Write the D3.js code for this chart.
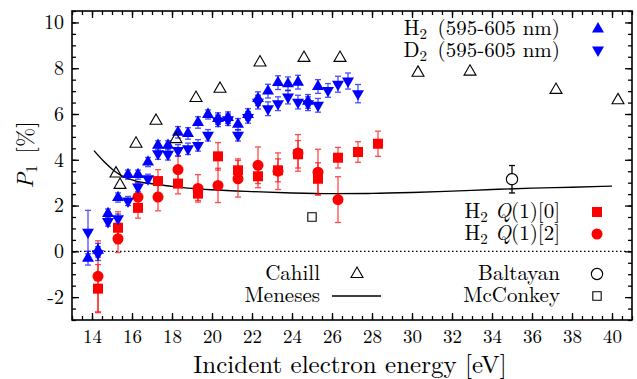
<!DOCTYPE html>
<html><head><meta charset="utf-8">
<script src="https://cdn.jsdelivr.net/npm/d3@7"></script>
<style>body{margin:0;background:#fff}svg{display:block}</style>
</head><body><svg id="c" width="637" height="379"></svg>
<script>
// ---- data ----
const xTicks = [14,16,18,20,22,24,26,28,30,32,34,36,38,40];
const yTicks = [-2,0,2,4,6,8,10];
const h2E   = [13.8,14.3,14.8,15.3,15.8,16.3,16.8,17.3,17.8,18.3,18.8,19.3,19.8,20.3,20.8,21.3,21.8,22.3,22.8,23.3,23.8,24.3,24.8,25.3];
const h2P   = [-0.3,0.05,1.65,2.35,3.35,3.35,3.9,4.63,4.63,5.2,5.15,5.63,5.98,5.8,5.84,5.55,5.98,6.67,7.0,7.37,7.32,7.39,6.55,7.2];
const h2Err = [0.3,0.3,0.2,0.2,0.2,0.2,0.2,0.2,0.2,0.25,0.25,0.25,0.2,0.25,0.25,0.25,0.25,0.3,0.3,0.3,0.3,0.3,0.3,0.3];
const d2E   = [13.8,14.3,14.8,15.3,15.8,16.3,16.8,17.3,17.8,18.3,18.8,19.3,19.8,20.3,20.8,21.3,21.8,22.3,22.8,23.3,23.8,24.3,24.8,25.3,25.8,26.3,26.8,27.3];
const d2P   = [0.84,-0.1,1.3,1.43,2.2,2.81,3.17,4.27,4.24,4.41,4.48,4.63,5.07,5.7,5.75,5.07,5.85,6.52,6.23,6.45,6.74,6.52,6.45,6.38,7.03,7.3,7.44,6.89];
const d2Err = [0.95,0.3,0.2,0.2,0.2,0.2,0.2,0.25,0.25,0.25,0.25,0.25,0.25,0.25,0.25,0.25,0.25,0.3,0.3,0.3,0.3,0.3,0.3,0.3,0.3,0.35,0.35,0.4];
const q0E   = [14.3,15.3,16.3,17.3,18.3,19.3,20.3,21.3,22.3,23.3,24.3,25.3,26.3,27.3,28.3];
const q0P   = [-1.63,1.03,1.9,3.07,2.96,2.52,4.15,3.54,3.28,3.54,4.24,3.17,4.09,4.34,4.7];
const q0Err = [1.05,0.7,0.45,0.5,0.45,0.3,0.6,0.5,0.5,0.5,0.6,0.7,0.45,0.45,0.55];
const q2E   = [14.3,15.3,16.3,17.3,18.3,19.3,20.3,21.3,22.3,23.3,24.3,25.3,26.3];
const q2P   = [-1.09,0.55,2.37,2.37,3.57,2.75,2.88,3.17,3.76,3.5,4.3,3.46,2.26];
const q2Err = [1.55,0.6,0.6,0.6,0.6,0.6,0.75,0.8,0.8,0.8,0.8,1.0,1.0];
const cahillE = [15.2,15.4,16.2,17.2,18.2,19.2,20.4,22.4,24.6,26.4,30.3,32.9,37.2,40.3];
const cahillP = [3.4,2.9,4.7,5.7,4.9,6.7,7.1,8.25,8.45,8.45,7.8,7.85,7.05,6.6];
const menesesE = [14.1,14.6,15.1,15.6,16.2,17,18,19,20,22,24,26,28,30,32,34,36,38,40];
const menesesP = [4.4,3.92,3.52,3.25,3.07,2.95,2.84,2.75,2.69,2.61,2.55,2.52,2.53,2.57,2.63,2.7,2.76,2.8,2.85];
const baltayanE = [35.0], baltayanP = [3.15], baltayanErr = [0.6];
const mcconkeyE = [25.0], mcconkeyP = [1.5];

// ---- layout ----
const FONT = '"Latin Modern Roman","CMU Serif","Liberation Serif",serif';
const svg = d3.select("#c");
const L=72, T=11, R=632, B=320;
const x = d3.scaleLinear().domain([13,41]).range([L,R]);
const y = d3.scaleLinear().domain([-3,10.5]).range([B,T]);
const BLUE="#0000ff", RED="#ff0000";

// zero line
svg.append("line").attr("x1",L).attr("x2",R).attr("y1",y(0)).attr("y2",y(0))
  .attr("stroke","#000").attr("stroke-width",1.2).attr("stroke-dasharray","1.5,2.5");

// axes
const xMinor = d3.range(13,41.01,0.5);
const yMinor = d3.range(-3,10.51,0.5);
(function(){
  const g = svg.append("g");
  const mk = (axis, t, len) => g.append("g").attr("transform",t).call(axis.tickSize(-len).tickFormat(""));
  mk(d3.axisBottom(x).tickValues(xMinor),`translate(0,${B})`,4);
  mk(d3.axisTop(x).tickValues(xMinor),`translate(0,${T})`,4);
  mk(d3.axisLeft(y).tickValues(yMinor),`translate(${L},0)`,4);
  mk(d3.axisRight(y).tickValues(yMinor),`translate(${R},0)`,4);
  mk(d3.axisBottom(x).tickValues(xTicks),`translate(0,${B})`,7);
  mk(d3.axisTop(x).tickValues(xTicks),`translate(0,${T})`,7);
  mk(d3.axisLeft(y).tickValues(yTicks),`translate(${L},0)`,7);
  mk(d3.axisRight(y).tickValues(yTicks),`translate(${R},0)`,7);
  g.selectAll(".domain").remove();
  g.selectAll("line").attr("stroke","#000").attr("stroke-width",1.3);
  const xl = svg.append("g").attr("transform",`translate(0,${B})`)
    .call(d3.axisBottom(x).tickValues(xTicks).tickSize(0).tickPadding(10).tickFormat(d3.format("d")));
  xl.select(".domain").remove();
  xl.selectAll("text").style("font-family",FONT).style("font-size","19px").attr("fill","#000");
  const yl = svg.append("g").attr("transform",`translate(${L},0)`)
    .call(d3.axisLeft(y).tickValues(yTicks).tickSize(0).tickPadding(8).tickFormat(d=> d<0? "-"+Math.abs(d) : d));
  yl.select(".domain").remove();
  yl.selectAll("text").style("font-family",FONT).style("font-size","20px").attr("fill","#000");
})();
svg.append("rect").attr("x",L).attr("y",T).attr("width",R-L).attr("height",B-T)
  .attr("fill","none").attr("stroke","#000").attr("stroke-width",1.6);

// meneses line
svg.append("path").datum(menesesE.map((e,i)=>[e,menesesP[i]]))
  .attr("d",d3.line().x(d=>x(d[0])).y(d=>y(d[1])).curve(d3.curveMonotoneX))
  .attr("fill","none").attr("stroke","#000").attr("stroke-width",1.4);

// error bars
function errBars(E,P,Er,color,op){
  const g=svg.append("g").attr("stroke",color).attr("stroke-width",1.3).attr("opacity",op);
  E.forEach((e,i)=>{
    const cx=x(e), y1=y(P[i]+Er[i]), y2=y(P[i]-Er[i]);
    g.append("line").attr("x1",cx).attr("x2",cx).attr("y1",y1).attr("y2",y2);
    g.append("line").attr("x1",cx-3).attr("x2",cx+3).attr("y1",y1).attr("y2",y1);
    g.append("line").attr("x1",cx-3).attr("x2",cx+3).attr("y1",y2).attr("y2",y2);
  });
}
const sym = (type,size)=>d3.symbol().type(type).size(size)();

errBars(q2E,q2P,q2Err,RED,0.7);
errBars(q0E,q0P,q0Err,RED,0.7);
errBars(d2E,d2P,d2Err,BLUE,0.7);
errBars(h2E,h2P,h2Err,BLUE,0.7);
errBars(baltayanE,baltayanP,baltayanErr,"#000",1);

function pts(E,P,path,fill,stroke,rot){
  svg.append("g").selectAll("path").data(E).join("path")
    .attr("d",path)
    .attr("transform",(d,i)=>`translate(${x(d)},${y(P[i])})${rot?" rotate(180)":""}`)
    .attr("fill",fill).attr("stroke",stroke).attr("stroke-width",1.1);
}
pts(q0E,q0P,sym(d3.symbolSquare,100),RED,"none");
pts(q2E,q2P,sym(d3.symbolCircle,95),RED,"none");
pts(d2E,d2P,sym(d3.symbolTriangle,62),BLUE,"none",true);
pts(h2E,h2P,sym(d3.symbolTriangle,62),BLUE,"none");
pts(cahillE,cahillP,sym(d3.symbolTriangle,62),"none","#000");
pts(baltayanE,baltayanP,sym(d3.symbolCircle,100),"#fff","#000");
pts(mcconkeyE,mcconkeyP,sym(d3.symbolSquare,70),"#fff","#000");

// legend
function legText(xr,yc,parts){
  const t=svg.append("text").attr("x",xr).attr("y",yc+6).attr("text-anchor","end")
    .style("font-family",FONT).style("font-size","21px");
  parts.forEach(p=>{
    const s=t.append("tspan").text(p.t);
    if(p.sub){s.style("font-size","15px").attr("dy",4);}
    if(p.up){s.attr("dy",-4);}
    if(p.it){s.style("font-style","italic");}
  });
}
legText(560,29,[{t:"H"},{t:"2",sub:1},{t:"\u2002(595-605 nm)",up:1}]);
legText(560,51,[{t:"D"},{t:"2",sub:1},{t:"\u2002(595-605 nm)",up:1}]);
legText(560,212,[{t:"H"},{t:"2",sub:1},{t:" ",up:1},{t:"Q",it:1},{t:"(1)[0]"}]);
legText(560,234,[{t:"H"},{t:"2",sub:1},{t:" ",up:1},{t:"Q",it:1},{t:"(1)[2]"}]);
legText(320,274,[{t:"Cahill"}]);
legText(320,296,[{t:"Meneses"}]);
legText(560,274,[{t:"Baltayan"}]);
legText(560,296,[{t:"McConkey"}]);
function legSym(cx,cy,path,fill,stroke,rot){
  svg.append("path").attr("d",path).attr("transform",`translate(${cx},${cy})${rot?" rotate(180)":""}`)
   .attr("fill",fill).attr("stroke",stroke).attr("stroke-width",1.1);
}
legSym(598,29,sym(d3.symbolTriangle,62),BLUE,"none");
legSym(598,50,sym(d3.symbolTriangle,62),BLUE,"none",true);
legSym(597,212,sym(d3.symbolSquare,100),RED,"none");
legSym(597,234,sym(d3.symbolCircle,95),RED,"none");
legSym(357,274,sym(d3.symbolTriangle,62),"none","#000");
svg.append("line").attr("x1",332).attr("x2",381).attr("y1",296).attr("y2",296).attr("stroke","#000").attr("stroke-width",1.4);
legSym(597,274,sym(d3.symbolCircle,100),"#fff","#000");
legSym(597,296,sym(d3.symbolSquare,70),"#fff","#000");

// axis titles
svg.append("text").attr("x",(L+R)/2 - 2).attr("y",373).attr("text-anchor","middle")
  .style("font-family",FONT).style("font-size","25px").text("Incident electron energy [eV]");
const yt=svg.append("text").attr("transform","translate(33,155) rotate(-90)").attr("text-anchor","middle")
  .style("font-family",FONT).style("font-size","23px");
yt.append("tspan").style("font-style","italic").text("P");
yt.append("tspan").style("font-size","16px").attr("dy",4).text("1");
yt.append("tspan").attr("dy",-4).text("\u2002[%]");
</script></body></html>
